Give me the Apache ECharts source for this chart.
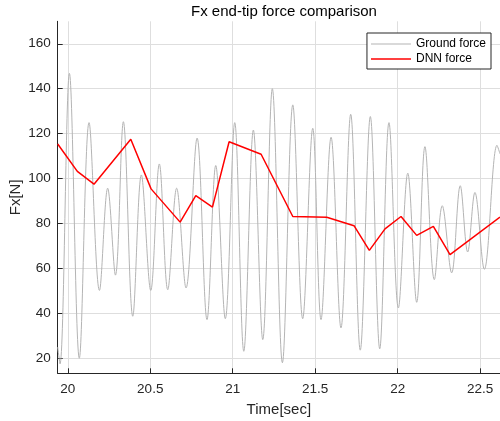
<!DOCTYPE html>
<html>
<head>
<meta charset="utf-8">
<script src="https://cdn.jsdelivr.net/npm/echarts@6/dist/echarts.min.js"></script>
<style>html,body{margin:0;padding:0;background:#fff}#c{width:500px;height:421px}</style>
</head>
<body>
<div id="c"></div>
<script>
var groundT = [19.939, 19.953, 20.010, 20.070, 20.129, 20.192, 20.242, 20.289, 20.337, 20.394, 20.446, 20.503, 20.555, 20.606, 20.660, 20.717, 20.784, 20.844, 20.897, 20.955, 21.012, 21.067, 21.125, 21.182, 21.240, 21.301, 21.364, 21.424, 21.485, 21.535, 21.596, 21.656, 21.715, 21.773, 21.834, 21.891, 21.947, 22.004, 22.061, 22.115, 22.165, 22.222, 22.270, 22.327, 22.379, 22.424, 22.468, 22.525, 22.602, 22.620];
var groundF = [25, 17.5, 146.8, 20, 124.9, 50.2, 95.7, 57, 125.3, 38.7, 101.6, 50.2, 106.5, 50.5, 95.7, 51.3, 118, 37.2, 105.8, 37.6, 124.9, 23.1, 121.6, 28.3, 140, 18, 132.8, 37.6, 122.4, 37.2, 118.4, 33.5, 128.6, 23.6, 127.6, 24.2, 124.9, 42.4, 102.4, 44.9, 114.2, 55, 87.9, 58, 96.8, 67.3, 93.8, 59.6, 114.8, 111];
// DNN force
var dnnT = [19.939, 20.058, 20.159, 20.382, 20.505, 20.681, 20.776, 20.877, 20.978, 21.172, 21.364, 21.570, 21.735, 21.828, 21.923, 22.020, 22.115, 22.216, 22.317, 22.620];
var dnnF = [115.4, 103.2, 97.5, 117.5, 95.4, 80.6, 92.4, 87.3, 116.4, 110.8, 83.1, 82.8, 79, 68, 77.6, 83.1, 74.7, 78.7, 66.1, 82.8];
// Tick labels
var xTicks = [20, 20.5, 21, 21.5, 22, 22.5];
var yTicks = [20, 40, 60, 80, 100, 120, 140, 160];

function zip(a, b) { return a.map(function (v, i) { return [v, b[i]]; }); }

var FONT = 'Liberation Sans, Arial, Helvetica, sans-serif';
var TXT = '#262626';
var chart = echarts.init(document.getElementById('c'), null, {renderer: 'canvas'});
chart.setOption({
  animation: false,
  backgroundColor: '#fff',
  textStyle: {fontFamily: FONT},
  title: {
    text: 'Fx end-tip force comparison',
    left: 279, top: -1, textAlign: 'center',
    textStyle: {fontSize: 15, fontWeight: 'normal', color: '#000', fontFamily: FONT}
  },
  legend: {
    orient: 'vertical', right: 9, top: 33,
    padding: [5, 5, 4, 4], itemGap: 3, itemWidth: 40, itemHeight: 12,
    backgroundColor: '#fff', borderColor: '#262626', borderWidth: 1,
    textStyle: {fontSize: 12, color: '#000', fontFamily: FONT},
    data: [
      {name: 'Ground force', icon: 'path://M0,5.5 L40,5.5 L40,6.5 L0,6.5 Z'},
      {name: 'DNN force', icon: 'path://M0,5.25 L40,5.25 L40,6.75 L0,6.75 Z'}
    ]
  },
  grid: {left: 57.7, right: 0, top: 21.3, bottom: 47.7, containLabel: false, outerBoundsMode: 'none'},
  xAxis: {
    type: 'value', min: 19.939, max: 22.62,
    name: 'Time[sec]', nameLocation: 'middle', nameGap: 29, nameMoveOverlap: false,
    nameTextStyle: {fontSize: 15, color: TXT, fontFamily: FONT},
    axisLine: {show: true, onZero: false, lineStyle: {color: TXT, width: 1}},
    axisTick: {show: true, inside: true, length: 5, lineStyle: {color: TXT}, customValues: xTicks},
    axisLabel: {fontSize: 13.5, color: TXT, margin: 9, customValues: xTicks, fontFamily: FONT,
      showMinLabel: true, showMaxLabel: true},
    splitLine: {show: true, lineStyle: {color: '#dedede', width: 1}}
  },
  yAxis: {
    type: 'value', min: 13.3, max: 170,
    name: 'Fx[N]', nameLocation: 'middle', nameGap: 34, nameRotate: 90, nameMoveOverlap: false,
    nameTextStyle: {fontSize: 15, color: TXT, fontFamily: FONT},
    axisLine: {show: true, onZero: false, lineStyle: {color: TXT, width: 1}},
    axisTick: {show: true, inside: true, length: 5, lineStyle: {color: TXT}, customValues: yTicks},
    axisLabel: {fontSize: 13.5, color: TXT, margin: 7, customValues: yTicks, fontFamily: FONT},
    splitLine: {show: true, lineStyle: {color: '#dedede', width: 1}}
  },
  series: [
    {
      name: 'Ground force', type: 'line', data: zip(groundT, groundF),
      symbol: 'none', smooth: 0.36, clip: true,
      lineStyle: {color: '#b4b4b4', width: 1}, itemStyle: {color: '#b4b4b4'}
    },
    {
      name: 'DNN force', type: 'line', data: zip(dnnT, dnnF),
      symbol: 'none', clip: true,
      lineStyle: {color: '#ff0000', width: 1.5}, itemStyle: {color: '#ff0000'}
    }
  ]
});
</script>
</body>
</html>
